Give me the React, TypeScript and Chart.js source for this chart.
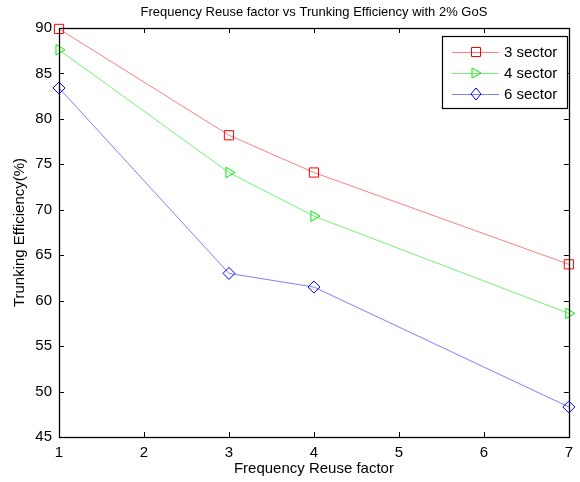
import React, { useEffect, useRef } from "react";
import { Chart, registerables } from "chart.js";

Chart.register(...registerables);

const reuseFactor = [1, 3, 4, 7];
const sector3 = [89.9, 78.2, 74.1, 64.0];
const sector4 = [87.6, 74.1, 69.3, 58.6];
const sector6 = [83.4, 63.0, 61.5, 48.3];
const xTicks = [1, 2, 3, 4, 5, 6, 7];
const yTicks = [45, 50, 55, 60, 65, 70, 75, 80, 85, 90];
const seriesNames = ["3 sector", "4 sector", "6 sector"];

const FONT = "Arial, 'Liberation Sans', sans-serif";

const frame = {
  id: "frame",
  afterDraw(chart: any) {
    const { ctx, chartArea: a, scales } = chart;
    const xs = scales.x;
    const ys = scales.y;
    ctx.save();
    ctx.strokeStyle = "#000";
    ctx.lineWidth = 1.3;
    // box
    ctx.strokeRect(Math.round(a.left) + 0.5, Math.round(a.top) + 0.5, Math.round(a.right - a.left), Math.round(a.bottom - a.top));
    // inward ticks
    ctx.lineWidth = 1;
    const tl = 5;
    ctx.beginPath();
    xTicks.forEach((v) => {
      const px = Math.round(xs.getPixelForValue(v)) + 0.5;
      ctx.moveTo(px, a.bottom);
      ctx.lineTo(px, a.bottom - tl);
      ctx.moveTo(px, a.top);
      ctx.lineTo(px, a.top + tl);
    });
    yTicks.forEach((v) => {
      const py = Math.round(ys.getPixelForValue(v)) + 0.5;
      ctx.moveTo(a.left, py);
      ctx.lineTo(a.left + tl, py);
      ctx.moveTo(a.right, py);
      ctx.lineTo(a.right - tl, py);
    });
    ctx.stroke();

    // title and axis titles
    ctx.fillStyle = "#000";
    ctx.font = `13px ${FONT}`;
    ctx.textAlign = "center";
    ctx.textBaseline = "middle";
    ctx.fillText("Frequency Reuse factor vs Trunking Efficiency with 2% GoS", (a.left + a.right) / 2, 12);
    ctx.font = `15px ${FONT}`;
    ctx.fillText("Frequency Reuse factor", (a.left + a.right) / 2, 469);
    ctx.save();
    ctx.translate(20, (a.top + a.bottom) / 2);
    ctx.rotate(-Math.PI / 2);
    ctx.fillText("Trunking Efficiency(%)", 0, 0);
    ctx.restore();

    // legend
    const lx = 442, ly = 36, lw = 125, lh = 72;
    ctx.fillStyle = "#fff";
    ctx.fillRect(lx, ly, lw, lh);
    ctx.strokeStyle = "#000";
    ctx.lineWidth = 1.2;
    ctx.strokeRect(lx + 0.5, ly + 0.5, lw, lh);
    chart.data.datasets.forEach((ds: any, i: number) => {
      const y = 52 + i * 21;
      ctx.strokeStyle = ds.borderColor;
      ctx.lineWidth = 1;
      ctx.beginPath();
      ctx.moveTo(452, y + 0.5);
      ctx.lineTo(499, y + 0.5);
      ctx.stroke();
      ctx.strokeStyle = ds.pointBorderColor;
      ctx.beginPath();
      const cx = 476;
      if (i === 0) {
        ctx.rect(cx - 4.5, y - 4.5, 9, 9);
      } else if (i === 1) {
        ctx.moveTo(cx - 4, y - 5);
        ctx.lineTo(cx + 5, y);
        ctx.lineTo(cx - 4, y + 5);
        ctx.closePath();
      } else {
        ctx.moveTo(cx, y - 6);
        ctx.lineTo(cx + 5, y);
        ctx.lineTo(cx, y + 6);
        ctx.lineTo(cx - 5, y);
        ctx.closePath();
      }
      ctx.stroke();
      ctx.fillStyle = "#000";
      ctx.textAlign = "left";
      ctx.font = `15px ${FONT}`;
      ctx.fillText(seriesNames[i], 504, y + 1);
    });
    ctx.restore();
  },
};

export default function App() {
  const ref = useRef<HTMLCanvasElement>(null);
  useEffect(() => {
    const mk = (vals: number[]) => reuseFactor.map((x, i) => ({ x, y: vals[i] }));
    const common = {
      borderWidth: 1,
      pointBackgroundColor: "rgba(0,0,0,0)",
      pointRadius: 6,
      pointBorderWidth: 1,
      clip: false,
    };
    const chart = new Chart(ref.current!, {
      type: "line",
      data: {
        datasets: [
          {
            ...common,
            label: seriesNames[0],
            data: mk(sector3),
            borderColor: "rgba(255,0,0,0.5)",
            pointBorderColor: "#ff0000",
            pointStyle: "rect",
            pointRadius: 6.5,
          },
          {
            ...common,
            label: seriesNames[1],
            data: mk(sector4),
            borderColor: "rgba(0,230,0,0.55)",
            pointBorderColor: "#00ee00",
            pointStyle: "triangle",
            rotation: 90,
          },
          {
            ...common,
            label: seriesNames[2],
            data: mk(sector6),
            borderColor: "rgba(0,0,255,0.5)",
            pointBorderColor: "#0000ff",
            pointStyle: "rectRot",
          },
        ],
      },
      options: {
        responsive: false,
        animation: false,
        devicePixelRatio: 1,
        layout: { padding: { top: 28, right: 6, left: 0, bottom: 0 } },
        plugins: { legend: { display: false }, title: { display: false }, tooltip: { enabled: false } },
        scales: {
          x: {
            type: "linear",
            min: 1,
            max: 7,
            afterBuildTicks: (s: any) => { s.ticks = xTicks.map((v) => ({ value: v })); },
            afterFit: (s: any) => { s.height = 45; },
            grid: { display: false, drawTicks: false },
            border: { display: false },
            ticks: { color: "#000", font: { size: 15, family: FONT }, padding: 7 },
          },
          y: {
            type: "linear",
            min: 45,
            max: 90,
            afterBuildTicks: (s: any) => { s.ticks = yTicks.map((v) => ({ value: v })); },
            afterFit: (s: any) => { s.width = 59; },
            grid: { display: false, drawTicks: false },
            border: { display: false },
            ticks: { color: "#000", font: { size: 15, family: FONT }, padding: 7 },
          },
        },
      },
      plugins: [frame],
    } as any);
    return () => chart.destroy();
  }, []);
  return (
    <div style={{ position: "fixed", left: 0, top: 0, width: 580, height: 482, background: "#fff" }}>
      <canvas ref={ref} width={580} height={482} />
    </div>
  );
}
